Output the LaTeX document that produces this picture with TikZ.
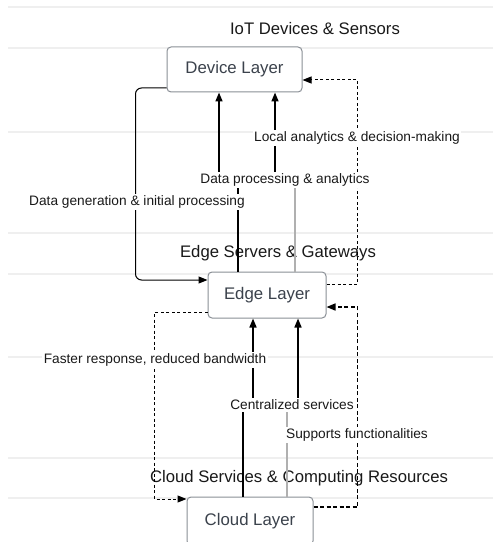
\documentclass[tikz,border=0pt]{standalone}
\usepackage{fontspec}
\setmainfont{Liberation Sans}
\usetikzlibrary{arrows.meta,calc}
\definecolor{bgline}{HTML}{EFEFEF}
\definecolor{boxline}{HTML}{8A8F96}
\definecolor{boxtext}{HTML}{3B424C}
\definecolor{softgray}{HTML}{B0B0B0}
\begin{document}
\begin{tikzpicture}[x=1bp,y=-1bp,
  layerbox/.style={draw=boxline,line width=1bp,rounded corners=4bp,fill=white,text=boxtext,
    font=\fontsize{16.8bp}{20bp}\selectfont,inner sep=0pt},
  titletext/.style={font=\fontsize{16.7bp}{20bp}\selectfont,text=black!90,inner sep=0pt},
  lbl/.style={font=\fontsize{13.7bp}{16bp}\selectfont,text=black!90,fill=white,inner sep=1.5bp},
  tip/.style={-{Triangle[length=9bp,width=7bp]}},
  solidthick/.style={line width=1.6bp,black},
  solidthin/.style={line width=1bp,black},
  graythin/.style={line width=1.2bp,softgray},
  dashthin/.style={line width=1bp,black,dash pattern=on 3bp off 2.5bp},
  dashthick/.style={line width=1.6bp,black,dash pattern=on 4bp off 2.5bp},
  bgrule/.style={line width=2bp,bgline}]
\clip (0,0) rectangle (493,542);
\fill[white] (0,0) rectangle (493,542);
\useasboundingbox (0,0) rectangle (493,542);
% background rules
\foreach \yy in {7,48,132,233,274,357,458,498}
  \draw[bgrule] (8,\yy) -- (493,\yy);
% titles
\node[titletext] (t1) at (315,29) {IoT Devices \& Sensors};
\node[titletext] (t2) at (278,253) {Edge Servers \& Gateways};
\node[titletext] (t3) at (299,478) {Cloud Services \& Computing Resources};
% boxes
\node[layerbox,minimum width=135bp,minimum height=45bp] (dev) at (234.5,69.5) {Device Layer};
\node[layerbox,minimum width=118bp,minimum height=46bp] (edge) at (267,295) {Edge Layer};
\node[layerbox,minimum width=126bp,minimum height=48bp] (cloud) at (250,521) {Cloud Layer};
% bend coordinates
\coordinate (k3) at (275,182);
\coordinate (k8) at (298,405);
% connector: device -> edge (data generation)
\draw[solidthin,tip,rounded corners=6bp] ($(dev.west)+(0,18.5)$) -| ($(edge.west)+(-72,-15)$) -- ($(edge.west)+(0,-15)$);
% edge -> device (data processing)
\draw[solidthick,tip] ($(edge.north)+(-29,0)$) -- ++(0,-92) -| ($(dev.south)+(-15.5,0)$);
% edge -> device (local analytics)
\draw[graythin] ($(edge.north)+(28,0)$) |- (k3);
\draw[solidthick,tip] (k3) -- (k3 |- dev.south);
% dashed edge -> device
\draw[dashthin,tip] ($(edge.east)+(0,-11)$) -- ++(31,0) |- ($(dev.east)+(0,10.5)$);
% dashed edge -> cloud
\draw[dashthin,tip] ($(edge.west)+(0,17)$) -| ($(cloud.west)+(-32,-22)$) -- ($(cloud.west)+(0,-22)$);
% thick dashed cloud -> edge
\draw[dashthick,tip] ($(cloud.east)+(0,-14)$) -- ++(44,0) |- ($(edge.east)+(0,12)$);
% cloud -> edge (centralized services)
\draw[solidthick,tip] ($(cloud.north)+(-7,0)$) -- ++(0,-92) -| ($(edge.south)+(-14,0)$);
% cloud -> edge (supports functionalities)
\draw[graythin] ($(cloud.north)+(37,0)$) |- (k8);
\draw[solidthick,tip] (k8) -- (k8 |- edge.south);
% labels
\node[lbl] (l1) at (357,138) {Local analytics \& decision-making};
\node[lbl] (l2) at (285,180) {Data processing \& analytics};
\node[lbl] (l3) at (137,202) {Data generation \& initial processing};
\node[lbl] (l4) at (155,360) {Faster response, reduced bandwidth};
\node[lbl] (l5) at (292,405) {Centralized services};
\node[lbl] (l6) at (357,435) {Supports functionalities};
\end{tikzpicture}
\end{document}
